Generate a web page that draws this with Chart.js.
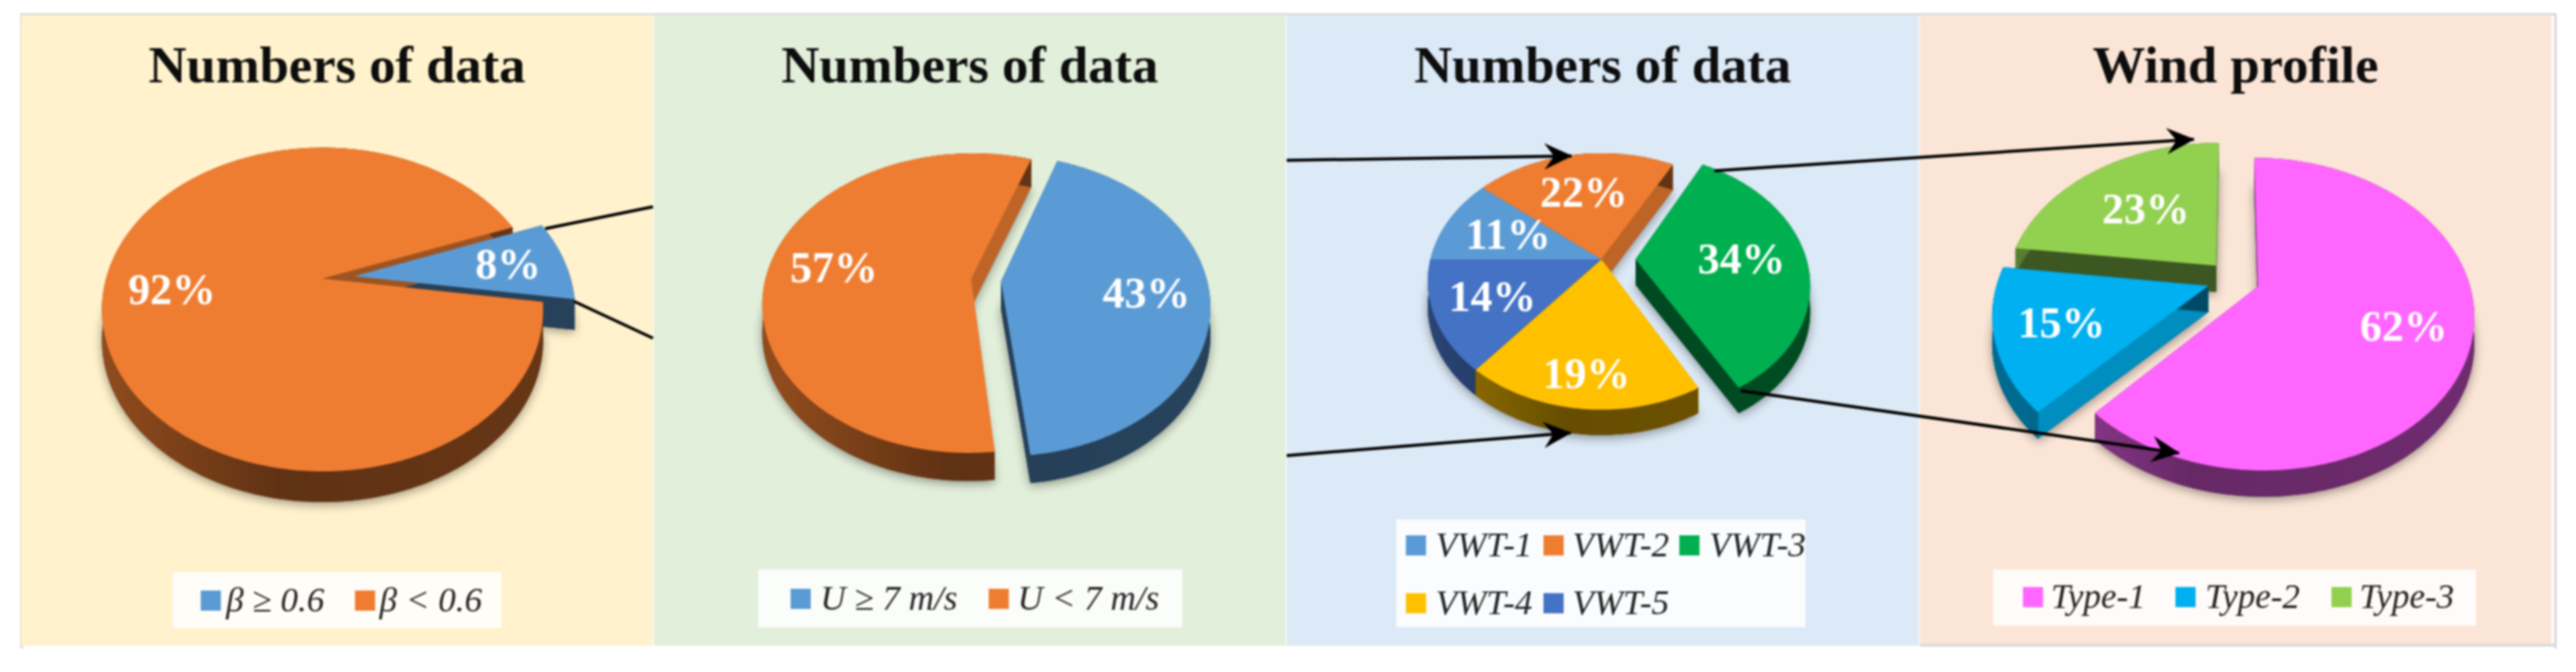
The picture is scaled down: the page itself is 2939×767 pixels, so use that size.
<!DOCTYPE html>
<html>
<head>
<meta charset="utf-8">
<title>Data split pies</title>
<script src="https://cdn.jsdelivr.net/npm/chart.js@4"></script>
<style>
  html, body { margin: 0; padding: 0; background: #fff; }
  #sheet { position: relative; width: 2939px; height: 767px; overflow: hidden; filter: blur(0.8px); }
  .panel { position: absolute; top: 17px; height: 720px; }
  .panel canvas { position: absolute; left: 0; top: 0; }
  .legend {
    position: absolute; background: rgba(255,255,255,0.85);
    font: italic 40px 'Liberation Serif', serif; color: #222;
  }
  .legend span { position: absolute; white-space: pre; line-height: 44px; }
  .legend i { position: absolute; width: 23px; height: 23px; }
  #frame { position: absolute; left: 23px; top: 15px; width: 2888px; height: 722px; border: 3px solid #d9d9d9; border-bottom: 0; }
  #edge { position: absolute; left: 2190px; top: 735px; width: 724px; height: 3px; background: #d9d9d9; }
  #links { position: absolute; left: 0; top: 0; }
</style>
</head>
<body>
<div id="sheet">
  <div id="frame"></div>
  <div class="panel" id="p1" style="left:24px;width:721px;background:#fff2cc"><canvas id="c1" width="721" height="720"></canvas></div>
  <div class="panel" id="p2" style="left:746px;width:721px;background:#e2efda"><canvas id="c2" width="721" height="720"></canvas></div>
  <div class="panel" id="p3" style="left:1468px;width:721px;background:#dce9f6"><canvas id="c3" width="721" height="720"></canvas></div>
  <div class="panel" id="p4" style="left:2190px;width:721px;background:#fbe5d6"><canvas id="c4" width="721" height="720"></canvas></div>
  <div id="edge"></div>
  <svg id="links" width="2939" height="767">
    <defs>
      <marker id="stealth" markerUnits="userSpaceOnUse" markerWidth="34" markerHeight="34" refX="31" refY="17" orient="auto">
        <path d="M0,2 L32,17 L0,32 L11,17 z" fill="#000"/>
      </marker>
    </defs>
    <g stroke="#000" stroke-width="3.5" fill="none">
      <line x1="622" y1="261" x2="745" y2="236"/>
      <line x1="655" y1="344" x2="745" y2="386"/>
      <line x1="1468" y1="183" x2="1793" y2="178" marker-end="url(#stealth)"/>
      <line x1="1468" y1="520" x2="1792" y2="494" marker-end="url(#stealth)"/>
      <line x1="1956" y1="195" x2="2503" y2="159" marker-end="url(#stealth)"/>
      <line x1="1986" y1="446" x2="2486" y2="517" marker-end="url(#stealth)"/>
    </g>
  </svg>
</div>

<script>
// ── Data ──────────────────────────────────────────────────────────────────────

const BETA_LABELS  = ['β ≥ 0.6', 'β < 0.6'];
const BETA_SHARES  = [8, 92];

const SPEED_LABELS = ['U ≥ 7 m/s', 'U < 7 m/s'];
const SPEED_SHARES = [43, 57];

const VWT_LABELS   = ['VWT-1', 'VWT-2', 'VWT-3', 'VWT-4', 'VWT-5'];
const VWT_SHARES   = [11, 22, 34, 19, 14];

const WIND_LABELS  = ['Type-1', 'Type-2', 'Type-3'];
const WIND_SHARES  = [62, 15, 23];

// ── Palette ───────────────────────────────────────────────────────────────────

const COLORS = {
  blue:   '#5b9bd5',
  orange: '#ef7d31',
  green:  '#00b050',
  yellow: '#ffc000',
  navy:   '#4472c4',
  pink:   '#ff66ff',
  sky:    '#00b0f0',
  lime:   '#92d050',
};

/** Darken a hex color by a factor */
function shade(hex, f) {
  const r = parseInt(hex.slice(1, 3), 16);
  const g = parseInt(hex.slice(3, 5), 16);
  const b = parseInt(hex.slice(5, 7), 16);
  return `rgb(${Math.round(r * f)},${Math.round(g * f)},${Math.round(b * f)})`;
}

// ── Plugin: paints the pie's arcs as a tilted disc with a wall ────────────────
// Angles come from the arc elements; offset is read as percent of the radius.

const pie3d = {
  id: 'pie3d',
  beforeDatasetDraw(chart, args, opts) {
    const { ctx } = chart;
    const { cx, cy, R, k, p, depth, labelRadius } = opts;
    const project = (u, v) => [cx + R * u / (1 + p * v), cy + k * v / (1 + p * v)];

    const slices = args.meta.data.map((arc, i) => {
      const mid = (arc.startAngle + arc.endAngle) / 2;
      const o = arc.options.offset / 100;
      const ou = o * Math.cos(mid), ov = o * Math.sin(mid);
      const at = (r, t) => project(ou + r * Math.cos(t), ov + r * Math.sin(t));
      const rim = [];
      const steps = Math.ceil((arc.endAngle - arc.startAngle) * 60);
      for (let s = 0; s <= steps; s++) {
        rim.push(at(1, arc.startAngle + (arc.endAngle - arc.startAngle) * s / steps));
      }
      return { i, mid, at, rim, apex: at(0, 0), color: arc.options.backgroundColor, start: arc.startAngle, end: arc.endAngle };
    });

    const outline = (pts, dy) => {
      ctx.beginPath();
      pts.forEach(([x, y], n) => (n ? ctx.lineTo(x, y + dy) : ctx.moveTo(x, y + dy)));
      ctx.closePath();
    };

    // soft shadow under everything
    ctx.save();
    ctx.shadowColor = 'rgba(0,0,0,0.4)';
    ctx.shadowBlur = 12;
    ctx.shadowOffsetY = 3;
    slices.forEach(s => {
      ctx.fillStyle = shade(s.color, 0.4);
      outline([s.apex, ...s.rim], depth);
      ctx.fill();
    });
    ctx.restore();

    // walls first, back to front
    slices.slice().sort((a, b) => Math.sin(a.mid) - Math.sin(b.mid)).forEach(s => {
      [[s.start, -1, s.rim[0]], [s.end, 1, s.rim[s.rim.length - 1]]].forEach(([t, side, edge]) => {
        const nx = Math.cos(t + side * Math.PI / 2);
        ctx.fillStyle = shade(s.color, nx > 0.2 ? Math.min(0.8, 0.45 + 0.6 * nx) : 0.42);
        outline([s.apex, edge, [edge[0], edge[1] + depth], [s.apex[0], s.apex[1] + depth]], 0);
        ctx.fill();
      });
      const grad = ctx.createLinearGradient(cx - R, 0, cx + R, 0);
      grad.addColorStop(0, shade(s.color, 0.6));
      grad.addColorStop(0.4, shade(s.color, 0.4));
      grad.addColorStop(1, shade(s.color, 0.43));
      ctx.fillStyle = grad;
      const lower = s.rim.map(([x, y]) => [x, y + depth]).reverse();
      outline([...s.rim, ...lower], 0);
      ctx.fill();
    });

    // then the top faces
    slices.forEach(s => {
      ctx.fillStyle = s.color;
      outline([s.apex, ...s.rim], 0);
      ctx.fill();
    });

    // percent labels
    ctx.save();
    ctx.fillStyle = '#fff';
    ctx.font = "bold 50px 'Liberation Serif', serif";
    ctx.textAlign = 'center';
    ctx.textBaseline = 'middle';
    slices.forEach(s => {
      const [x, y] = s.at(labelRadius[s.i], s.mid);
      ctx.fillText(`${chart.data.datasets[0].data[s.i]}%`, x, y + 3);
    });
    ctx.restore();

    return false;
  },
};

// ── Chart factory ─────────────────────────────────────────────────────────────

function createPie(canvasId, title, labels, shares, colors, rotation, explode, shape) {
  return new Chart(document.getElementById(canvasId), {
    type: 'pie',
    data: {
      labels,
      datasets: [{ data: shares, backgroundColor: colors, offset: explode, borderWidth: 0, rotation }],
    },
    options: {
      responsive: false,
      animation: false,
      plugins: {
        legend: { display: false },
        tooltip: { enabled: false },
        title: {
          display: true,
          text: title,
          color: '#0d0d0d',
          font: { family: "'Liberation Serif', serif", size: 60, weight: 'bold' },
          padding: { top: 25, bottom: 10 },
        },
        pie3d: shape,
      },
    },
    plugins: [pie3d],
  });
}

// Legend rows sit in a small box on top of the panel
function addLegend(panelId, box, labels, colors, slots) {
  const el = document.createElement('div');
  el.className = 'legend';
  el.style.cssText = `left:${box.x}px;top:${box.y}px;width:${box.w}px;height:${box.h}px`;
  labels.forEach((label, i) => {
    const [sx, tx, cy] = slots[i];
    const sw = document.createElement('i');
    sw.style.cssText = `left:${sx}px;top:${cy - 11}px;background:${colors[i]}`;
    const tag = document.createElement('span');
    tag.style.cssText = `left:${tx}px;top:${cy - 22}px`;
    tag.textContent = label;
    el.append(sw, tag);
  });
  document.getElementById(panelId).append(el);
}

// ── Panels ────────────────────────────────────────────────────────────────────

const BETA_COLORS  = [COLORS.blue, COLORS.orange];
const SPEED_COLORS = [COLORS.blue, COLORS.orange];
const VWT_COLORS   = [COLORS.blue, COLORS.orange, COLORS.green, COLORS.yellow, COLORS.navy];
const WIND_COLORS  = [COLORS.pink, COLORS.sky, COLORS.lime];

createPie('c1', 'Numbers of data', BETA_LABELS, BETA_SHARES, BETA_COLORS, 69.5, [14.7, 0],
  { cx: 344, cy: 301, R: 247, k: 178, p: -0.191, depth: 35, labelRadius: [0.73, 0.69] });

createPie('c2', 'Numbers of data', SPEED_LABELS, SPEED_SHARES, SPEED_COLORS, 19, [7.3, 7.3],
  { cx: 379, cy: 303, R: 235, k: 167, p: -0.16, depth: 32, labelRadius: [0.7, 0.68] });

createPie('c3', 'Numbers of data', VWT_LABELS, VWT_SHARES, VWT_COLORS, 270, [0, 0, 20, 0, 0],
  { cx: 359, cy: 279, R: 195, k: 142, p: -0.1725, depth: 29, labelRadius: [0.6, 0.6, 0.62, 0.8, 0.67] });

createPie('c4', 'Wind profile', WIND_LABELS, WIND_SHARES, WIND_COLORS, 0, [12.5, 12.5, 12.5],
  { cx: 358, cy: 302, R: 240, k: 170, p: -0.176, depth: 30, labelRadius: [0.7, 0.7, 0.56] });

addLegend('p1', { x: 173, y: 636, w: 375, h: 64 }, BETA_LABELS, BETA_COLORS,
  [[32, 61, 32], [208, 236, 32]]);
addLegend('p2', { x: 119, y: 633, w: 484, h: 66 }, SPEED_LABELS, SPEED_COLORS,
  [[37, 71, 33], [263, 296, 33]]);
addLegend('p3', { x: 125, y: 576, w: 467, h: 123 }, VWT_LABELS, VWT_COLORS,
  [[11, 45, 29], [168, 201, 29], [323, 357, 29], [11, 45, 95], [168, 201, 95]]);
addLegend('p4', { x: 84, y: 633, w: 551, h: 64 }, WIND_LABELS, WIND_COLORS,
  [[34, 66, 31], [208, 242, 31], [386, 418, 31]]);
</script>
</body>
</html>
